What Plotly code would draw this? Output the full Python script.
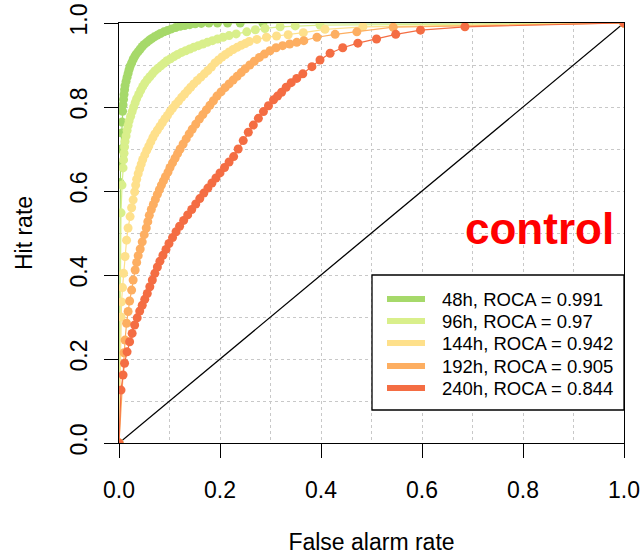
import plotly.graph_objects as go

# ---------------- data ----------------
lead_times = ["48h", "96h", "144h", "192h", "240h"]
roca = [0.991, 0.97, 0.942, 0.905, 0.844]
colors = ["#A6D96A", "#D9EF8B", "#FEE08B", "#FDAE61", "#F46D43"]

far_48 = [0.0, 0.002, 0.003, 0.004, 0.005, 0.006, 0.007, 0.008, 0.009, 0.010, 0.011, 0.012, 0.014,
          0.016, 0.018, 0.020, 0.022, 0.025, 0.028, 0.031, 0.034, 0.038, 0.042, 0.046, 0.050, 0.055,
          0.060, 0.065, 0.070, 0.076, 0.082, 0.089, 0.096, 0.104, 0.112, 0.121, 0.130, 0.140, 0.151,
          0.163, 0.178, 0.195, 0.215, 0.240, 0.285, 1.0]
hr_48 = [0.0, 0.620, 0.660, 0.700, 0.738, 0.764, 0.790, 0.805, 0.818, 0.830, 0.841, 0.851, 0.861,
         0.871, 0.880, 0.889, 0.897, 0.905, 0.913, 0.920, 0.926, 0.932, 0.938, 0.944, 0.949, 0.954,
         0.959, 0.963, 0.967, 0.971, 0.975, 0.979, 0.982, 0.986, 0.989, 0.992, 0.994, 0.996, 0.998,
         0.999, 1.0, 1.0, 1.0, 1.0, 1.0, 1.0]

far_96 = [0.0, 0.004, 0.006, 0.008, 0.009, 0.010, 0.011, 0.012, 0.014, 0.016, 0.018, 0.020, 0.023,
          0.026, 0.029, 0.032, 0.035, 0.039, 0.043, 0.047, 0.051, 0.056, 0.061, 0.066, 0.071, 0.077,
          0.083, 0.089, 0.095, 0.102, 0.109, 0.116, 0.124, 0.132, 0.140, 0.148, 0.157, 0.166, 0.175,
          0.185, 0.195, 0.206, 0.218, 0.232, 0.253, 0.270, 0.289, 0.319, 0.349, 0.398, 1.0]
hr_96 = [0.0, 0.548, 0.614, 0.655, 0.674, 0.690, 0.705, 0.718, 0.731, 0.744, 0.756, 0.767, 0.778,
         0.789, 0.800, 0.810, 0.820, 0.830, 0.840, 0.849, 0.857, 0.865, 0.872, 0.879, 0.886, 0.892,
         0.898, 0.904, 0.910, 0.915, 0.920, 0.925, 0.930, 0.934, 0.938, 0.942, 0.946, 0.950, 0.954,
         0.958, 0.962, 0.966, 0.970, 0.974, 0.979, 0.984, 0.987, 0.991, 0.993, 0.995, 1.0]

far_144 = [0.0, 0.004, 0.005, 0.007, 0.009, 0.012, 0.015, 0.018, 0.022, 0.025, 0.028, 0.031, 0.033,
           0.035, 0.038, 0.041, 0.044, 0.047, 0.051, 0.055, 0.059, 0.063, 0.067, 0.071, 0.076, 0.081,
           0.086, 0.091, 0.096, 0.101, 0.106, 0.112, 0.118, 0.124, 0.130, 0.136, 0.142, 0.148, 0.155,
           0.162, 0.169, 0.176, 0.183, 0.190, 0.197, 0.204, 0.211, 0.218, 0.226, 0.234, 0.242, 0.250,
           0.258, 0.273, 0.292, 0.312, 0.335, 0.365, 0.408, 0.483, 1.0]
hr_144 = [0.0, 0.300, 0.336, 0.370, 0.404, 0.444, 0.483, 0.512, 0.539, 0.560, 0.579, 0.598, 0.614,
          0.628, 0.641, 0.653, 0.664, 0.675, 0.686, 0.697, 0.707, 0.717, 0.727, 0.736, 0.745, 0.754,
          0.763, 0.772, 0.780, 0.789, 0.797, 0.806, 0.814, 0.823, 0.831, 0.839, 0.847, 0.855, 0.863,
          0.871, 0.879, 0.887, 0.895, 0.905, 0.912, 0.919, 0.925, 0.931, 0.937, 0.942, 0.947, 0.951,
          0.956, 0.961, 0.966, 0.969, 0.972, 0.977, 0.985, 0.991, 1.0]

far_192 = [0.0, 0.010, 0.012, 0.015, 0.018, 0.021, 0.025, 0.028, 0.032, 0.035, 0.038, 0.042, 0.046,
           0.050, 0.054, 0.057, 0.060, 0.064, 0.068, 0.072, 0.076, 0.080, 0.084, 0.088, 0.092, 0.097,
           0.101, 0.106, 0.111, 0.116, 0.121, 0.127, 0.133, 0.139, 0.145, 0.152, 0.159, 0.166, 0.173,
           0.180, 0.187, 0.194, 0.202, 0.210, 0.218, 0.226, 0.234, 0.242, 0.250, 0.259, 0.268, 0.278,
           0.288, 0.299, 0.311, 0.324, 0.338, 0.352, 0.366, 0.392, 0.428, 0.471, 0.543, 1.0]
hr_192 = [0.0, 0.215, 0.245, 0.285, 0.313, 0.338, 0.364, 0.388, 0.412, 0.430, 0.446, 0.462, 0.479,
          0.496, 0.512, 0.527, 0.542, 0.556, 0.568, 0.580, 0.592, 0.603, 0.614, 0.624, 0.634, 0.645,
          0.656, 0.667, 0.678, 0.689, 0.700, 0.712, 0.724, 0.736, 0.747, 0.759, 0.771, 0.782, 0.793,
          0.804, 0.815, 0.826, 0.836, 0.846, 0.855, 0.864, 0.873, 0.882, 0.891, 0.900, 0.909, 0.918,
          0.926, 0.934, 0.941, 0.946, 0.950, 0.954, 0.958, 0.966, 0.973, 0.979, 0.990, 1.0]

far_240 = [0.0, 0.004, 0.008, 0.011, 0.016, 0.021, 0.026, 0.031, 0.036, 0.041, 0.046, 0.051, 0.056,
           0.061, 0.066, 0.071, 0.076, 0.081, 0.087, 0.093, 0.099, 0.106, 0.113, 0.120, 0.128, 0.136,
           0.144, 0.152, 0.160, 0.168, 0.176, 0.184, 0.192, 0.200, 0.209, 0.218, 0.227, 0.236, 0.246,
           0.256, 0.266, 0.276, 0.286, 0.296, 0.306, 0.314, 0.322, 0.331, 0.341, 0.352, 0.364, 0.382,
           0.398, 0.418, 0.443, 0.473, 0.510, 0.548, 0.597, 0.685, 1.0]
hr_240 = [0.0, 0.126, 0.162, 0.190, 0.217, 0.241, 0.261, 0.281, 0.298, 0.314, 0.328, 0.342, 0.356,
          0.372, 0.388, 0.404, 0.419, 0.433, 0.447, 0.461, 0.475, 0.489, 0.503, 0.516, 0.530, 0.543,
          0.556, 0.569, 0.582, 0.595, 0.607, 0.619, 0.631, 0.643, 0.656, 0.669, 0.682, 0.700, 0.720,
          0.740, 0.757, 0.773, 0.789, 0.803, 0.817, 0.826, 0.835, 0.847, 0.858, 0.868, 0.879, 0.896,
          0.912, 0.928, 0.941, 0.952, 0.962, 0.973, 0.983, 0.991, 1.0]

far_list = [far_48, far_96, far_144, far_192, far_240]
hr_list = [hr_48, hr_96, hr_144, hr_192, hr_240]

diag = [0.0, 1.0]
tick_vals = [0.0, 0.2, 0.4, 0.6, 0.8, 1.0]
tick_text = ["0.0", "0.2", "0.4", "0.6", "0.8", "1.0"]

# ---------------- figure ----------------
W, H = 642, 557
L, R, T, B = 119, 18, 23, 114
FONT = "Liberation Sans, Arial, sans-serif"

fig = go.Figure()

fig.add_trace(go.Scatter(x=diag, y=diag, mode="lines",
                         line=dict(color="black", width=1.3), showlegend=False, hoverinfo="skip"))

for far, hr, col, lt in zip(far_list, hr_list, colors, lead_times):
    fig.add_trace(go.Scatter(x=far, y=hr, mode="lines+markers", name=lt,
                             line=dict(color=col, width=1.2),
                             marker=dict(color=col, size=9, line=dict(width=0)),
                             showlegend=False))

axis_common = dict(
    range=[0, 1], tickvals=tick_vals, ticktext=tick_text, automargin=False,
    showline=True, mirror=True, linecolor="black", linewidth=1.3,
    ticks="outside", ticklen=14, tickwidth=1.3, tickcolor="black",
    showgrid=True, gridcolor="#c8c8c8", griddash="dot", gridwidth=1,
    minor=dict(dtick=0.1, showgrid=True, gridcolor="#c8c8c8", griddash="dot", gridwidth=1),
    zeroline=False,
    tickfont=dict(family=FONT, size=23, color="black"),
)

fig.update_xaxes(**axis_common, ticklabelstandoff=12,
                 title=dict(text="False alarm rate", standoff=32,
                            font=dict(family=FONT, size=23, color="black")))
fig.update_yaxes(**axis_common, tickangle=-90, ticklabelstandoff=8,
                 title=dict(text="Hit rate", standoff=26,
                            font=dict(family=FONT, size=23, color="black")))

# legend drawn as box + sample lines + text, in plot coordinates
pw, ph = W - L - R, H - T - B
def dx(px):
    return (px - L) / pw
def dy(py):
    return (T + ph - py) / ph

fig.add_shape(type="rect", xref="x", yref="y", x0=dx(372), x1=dx(624), y0=dy(410), y1=dy(275),
              fillcolor="white", line=dict(color="black", width=1.3), layer="above")
row_py = [299, 321, 343, 366, 388]
for i, (lt, rc, col) in enumerate(zip(lead_times, roca, colors)):
    yy = dy(row_py[i])
    fig.add_shape(type="line", xref="x", yref="y", x0=dx(387), x1=dx(425), y0=yy, y1=yy,
                  line=dict(color=col, width=6), layer="above")
    fig.add_annotation(x=dx(440), y=yy, xref="x", yref="y", xanchor="left", yanchor="middle",
                       text=f"{lt}, ROCA = {rc}", showarrow=False,
                       font=dict(family=FONT, size=18.5, color="black"))

fig.add_annotation(x=dx(616), y=dy(228), xref="x", yref="y", xanchor="right", yanchor="middle",
                   text="<b>control</b>", showarrow=False,
                   font=dict(family=FONT, size=44, color="#FF0000"))

fig.update_layout(
    width=W, height=H,
    margin=dict(l=L, r=R, t=T, b=B, pad=0),
    paper_bgcolor="white", plot_bgcolor="white",
    showlegend=False,
)

fig.write_html("out.html")
